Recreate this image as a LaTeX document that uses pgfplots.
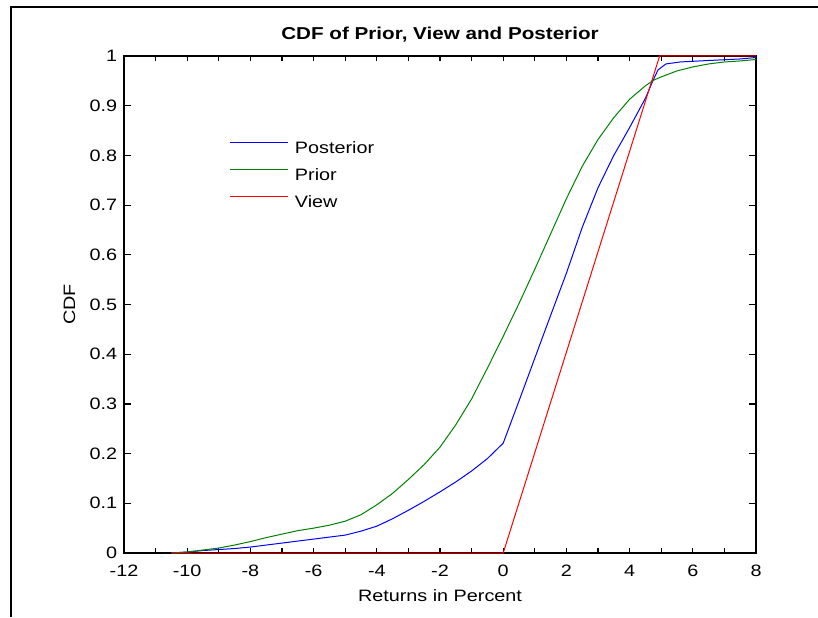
\documentclass[border=0pt]{standalone}
\usepackage{fontspec}
\setmainfont{Liberation Sans}[FakeStretch=1.2]
\usepackage{pgfplots}
\pgfplotsset{compat=1.18}
\definecolor{mblue}{rgb}{0,0,1}
\definecolor{mgreen}{rgb}{0,0.5,0}
\definecolor{mred}{rgb}{1,0,0}
\begin{document}
\fontsize{8.25pt}{10pt}\selectfont
\begin{tikzpicture}
\useasboundingbox (0,0) rectangle (409pt,308.5pt);
\draw[line width=1pt] (5.5pt,0) -- (5.5pt,305.2pt) -- (409pt,305.2pt);
\begin{axis}[
  at={(62pt,32pt)}, anchor=south west,
  scale only axis, width=316pt, height=248.5pt,
  xmin=-12, xmax=8, ymin=0, ymax=1,
  clip=false,
  axis line style={line width=0.75pt},
  tick style={line width=0.6pt, black},
  tick align=inside,
  xtick={-12,-10,-8,-6,-4,-2,0,2,4,6,8},
  xticklabels={-12,-10,-8,-6,-4,-2,0,2,4,6,8},
  minor x tick num=1,
  xtick style={/pgfplots/major tick length=2.5pt,/pgfplots/minor tick length=2.5pt},
  ytick={0,0.1,0.2,0.3,0.4,0.5,0.6,0.7,0.8,0.9,1},
  yticklabels={0,0.1,0.2,0.3,0.4,0.5,0.6,0.7,0.8,0.9,1},
  ytick style={/pgfplots/major tick length=3.5pt},
  xticklabel style={yshift=-3pt},
  yticklabel style={xshift=-0.5pt},
  title={CDF of Prior, View and Posterior},
  title style={font=\fontsize{8.6pt}{10pt}\selectfont\bfseries, at={([yshift=2pt]axis description cs:0.5,1)}, anchor=base},
  xlabel={Returns in Percent},
  xlabel style={at={([yshift=-24pt]axis description cs:0.5,0)}, anchor=base},
  ylabel={CDF},
  ylabel style={at={([xshift=-24.5pt]axis description cs:0,0.5)}, anchor=base, rotate=0},
  legend style={at={(axis description cs:0.1677,0.842)}, anchor=north west,
    draw=none, fill=none, inner sep=0pt, outer sep=0pt, row sep=0pt, column sep=3pt,
    nodes={inner sep=0pt, text height=9.5pt, text depth=4pt}},
  legend cell align=left,
  legend image code/.code={\draw[#1] (0pt,3pt) -- (29pt,3pt);},
]
\addplot[mblue, line width=0.5pt] coordinates {
(-10.5,0) (-10,0.002) (-9.5,0.005) (-9,0.007) (-8.5,0.009) (-8,0.012) (-7.5,0.016)
(-7,0.02) (-6.5,0.024) (-6,0.028) (-5.5,0.032) (-5,0.036) (-4.5,0.044) (-4,0.054)
(-3.5,0.069) (-3,0.086) (-2.5,0.104) (-2,0.123) (-1.5,0.143) (-1,0.165) (-0.5,0.19)
(0,0.221) (0.5,0.306) (1,0.392) (1.5,0.478) (2,0.563) (2.5,0.655) (3,0.735)
(3.5,0.8) (4,0.856) (4.5,0.915) (4.75,0.952) (4.9,0.972) (5.15,0.984) (5.6,0.988)
(6.5,0.991) (7.5,0.994) (8,0.997)};
\addlegendentry{Posterior}
\addplot[mgreen, line width=0.5pt] coordinates {
(-10.5,0) (-10,0.002) (-9.5,0.006) (-9,0.01) (-8.5,0.016) (-8,0.023) (-7.5,0.031)
(-7,0.038) (-6.5,0.045) (-6,0.05) (-5.5,0.056) (-5,0.064) (-4.5,0.077) (-4,0.097)
(-3.5,0.12) (-3,0.148) (-2.5,0.178) (-2,0.213) (-1.5,0.258) (-1,0.31) (-0.5,0.372)
(0,0.436) (0.5,0.502) (1,0.571) (1.5,0.642) (2,0.713) (2.5,0.778) (3,0.832)
(3.5,0.876) (4,0.913) (4.5,0.94) (4.75,0.951) (5,0.958)
(5.5,0.97) (6,0.978) (6.5,0.984) (7,0.988) (7.5,0.99) (8,0.993)};
\addlegendentry{Prior}
\addplot[mred, line width=0.5pt] coordinates {
(-10.5,0) (0,0) (4.95,1) (8,1)};
\addlegendentry{View}
\end{axis}
\end{tikzpicture}
\end{document}
